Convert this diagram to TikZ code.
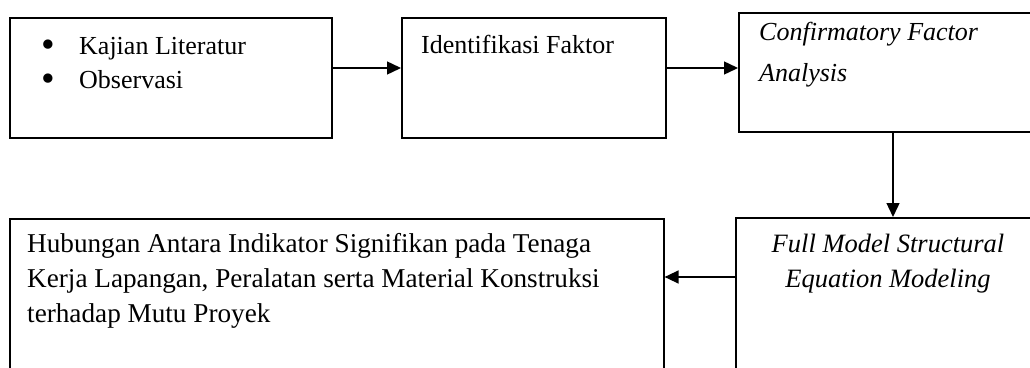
\documentclass[tikz,border=0pt]{standalone}
\usepackage{fontspec}
\setmainfont{Liberation Serif}
\usetikzlibrary{arrows.meta}
\newcommand{\bigbul}{\makebox[38pt][l]{\raisebox{-3pt}{\scalebox{1.5}{\textbullet}}}}
\begin{document}
\begin{tikzpicture}[x=1pt,y=-1pt,
  box/.style={draw, line width=1.6pt, anchor=north west, inner sep=0pt},
  arr/.style={line width=1.4pt, -{Triangle[length=14pt,width=13pt]}},
  txt/.style={inner sep=0pt, align=left, anchor=base west, font=\fontsize{26}{34}\selectfont},
  txtc/.style={inner sep=0pt, align=center, anchor=base, font=\fontsize{26.5}{35}\selectfont\itshape}]
\useasboundingbox (0,0) rectangle (1030,367);
\clip (0,0) rectangle (1030,367);
\node[box, minimum width=322pt, minimum height=120pt] (b1) at (9,17) {};
\node[box, minimum width=264pt, minimum height=120pt] (b2) at (401,17) {};
\node[box, minimum width=310pt, minimum height=119pt] (b3) at (738,12) {};
\node[box, minimum width=654pt, minimum height=170pt] (b4) at (9,218) {};
\node[box, minimum width=310pt, minimum height=170pt] (b5) at (735,217) {};
% anchor base = baseline of the last line
\node[txt] (t1) at (41,88) {\bigbul Kajian Literatur\\\bigbul Observasi};
\node[txt] (t2) at (421,53) {Identifikasi Faktor};
\node[txt, font=\fontsize{26}{41}\selectfont\itshape] (t3) at (759,81) {Confirmatory Factor\\Analysis};
\node[txt, font=\fontsize{27.2}{35}\selectfont] (t4) at (27,322) {Hubungan Antara Indikator Signifikan pada Tenaga\\Kerja Lapangan, Peralatan serta Material Konstruksi\\terhadap Mutu Proyek};
\node[txtc] (t5) at (888,287) {Full Model Structural\\Equation Modeling};
\coordinate (r1) at (0,68);
\coordinate (c3) at (893,0);
\coordinate (r4) at (0,277);
\draw[arr] (b1.east |- r1) -- (b2.west |- r1);
\draw[arr] (b2.east |- r1) -- (b3.west |- r1);
\draw[arr] (b3.south -| c3) -- (b5.north -| c3);
\draw[arr] (b5.west |- r4) -- (b4.east |- r4);
\end{tikzpicture}
\end{document}
